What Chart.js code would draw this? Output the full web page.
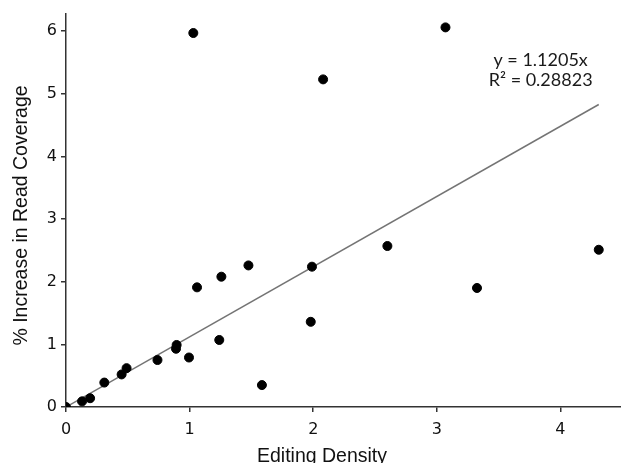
<!DOCTYPE html>
<html>
<head>
<meta charset="utf-8">
<script src="https://cdn.jsdelivr.net/npm/chart.js@4"></script>
<style>
  html, body { margin: 0; padding: 0; background: #fff; }
  #wrap { width: 621px; height: 463px; }
</style>
</head>
<body>
<div id="wrap"><canvas id="scatterChart" width="621" height="463"></canvas></div>
<script>
// Editing density (x) vs % increase in read coverage (y)
const editingDensity = [0, 0.13, 0.195, 0.31, 0.45, 0.49, 0.74, 0.89, 0.895, 0.995, 1.24,
                        1.06, 1.257, 1.476, 1.99, 1.98, 1.585, 1.03, 2.08, 3.07, 2.60, 3.325, 4.31];
const coverageIncrease = [0, 0.09, 0.14, 0.39, 0.52, 0.62, 0.75, 0.93, 0.99, 0.79, 1.07,
                          1.91, 2.08, 2.26, 2.24, 1.36, 0.35, 5.97, 5.23, 6.06, 2.57, 1.90, 2.51];

// Linear fit through origin, as printed on the chart
const slope = 1.1205;
const rSquared = 0.28823;
const trendX = [0, 4.31];

const xTicks = [0, 1, 2, 3, 4];
const yTicks = [0, 1, 2, 3, 4, 5, 6];

const xTitle = 'Editing Density';
const yTitle = '% Increase in Read Coverage';

let points = editingDensity.map((x, i) => ({ x: x, y: coverageIncrease[i] }));
let trend = trendX.map(x => ({ x: x, y: slope * x }));

// Draws the fit equation and the axis titles where the original has them
const chartLabels = {
    id: 'chartLabels',
    afterDraw(chart) {
        const ctx = chart.ctx;
        const xs = chart.scales.x, ys = chart.scales.y;
        ctx.save();
        ctx.fillStyle = '#1a1a1a';
        ctx.font = '18px Lato, "Open Sans", sans-serif';
        ctx.textAlign = 'center';
        ctx.textBaseline = 'middle';
        const cx = xs.getPixelForValue(3.84);
        ctx.fillText('y = ' + slope + 'x', cx, ys.getPixelForValue(5.53));
        ctx.fillText('R² = ' + rSquared, cx, ys.getPixelForValue(5.21));

        ctx.fillStyle = '#111';
        ctx.font = '19.5px "Liberation Sans", Arial, sans-serif';
        ctx.textBaseline = 'alphabetic';
        ctx.fillText(xTitle, 322, 462);

        ctx.translate(27, 215.5);
        ctx.rotate(-Math.PI / 2);
        ctx.fillText(yTitle, 0, 0);
        ctx.restore();
    }
};

function axisStyle() {
    return {
        grid: { display: true, drawOnChartArea: false, drawTicks: true, tickLength: 5, color: '#333', lineWidth: 1.5 },
        border: { display: true, color: '#333', width: 1.5 }
    };
}

let ctx = document.getElementById('scatterChart').getContext('2d');
let scatterChart = new Chart(ctx, {
    type: 'scatter',
    data: {
        datasets: [
            {
                label: 'Sites',
                data: points,
                backgroundColor: '#000',
                borderColor: '#000',
                pointRadius: 4.5,
                order: 1
            },
            {
                label: 'Fit',
                type: 'line',
                data: trend,
                borderColor: '#747474',
                borderWidth: 1.5,
                pointRadius: 0,
                fill: false,
                order: 2
            }
        ]
    },
    options: {
        responsive: false,
        animation: false,
        layout: { autoPadding: false, padding: { top: 13, right: 0, left: 0, bottom: 0 } },
        plugins: { legend: { display: false }, tooltip: { enabled: false } },
        scales: {
            x: Object.assign(axisStyle(), {
                type: 'linear',
                min: 0,
                max: 4.49,
                afterBuildTicks: s => { s.ticks = xTicks.map(v => ({ value: v })); },
                afterFit: s => { s.height = 56; },
                ticks: { color: '#111', padding: 8, font: { family: '"DejaVu Sans"', size: 16 } }
            }),
            y: Object.assign(axisStyle(), {
                type: 'linear',
                min: 0,
                max: 6.28,
                afterBuildTicks: s => { s.ticks = yTicks.map(v => ({ value: v })); },
                afterFit: s => { s.width = 66; },
                ticks: { color: '#111', padding: 4, font: { family: '"DejaVu Sans"', size: 16 } }
            })
        }
    },
    plugins: [chartLabels]
});
</script>
</body>
</html>
